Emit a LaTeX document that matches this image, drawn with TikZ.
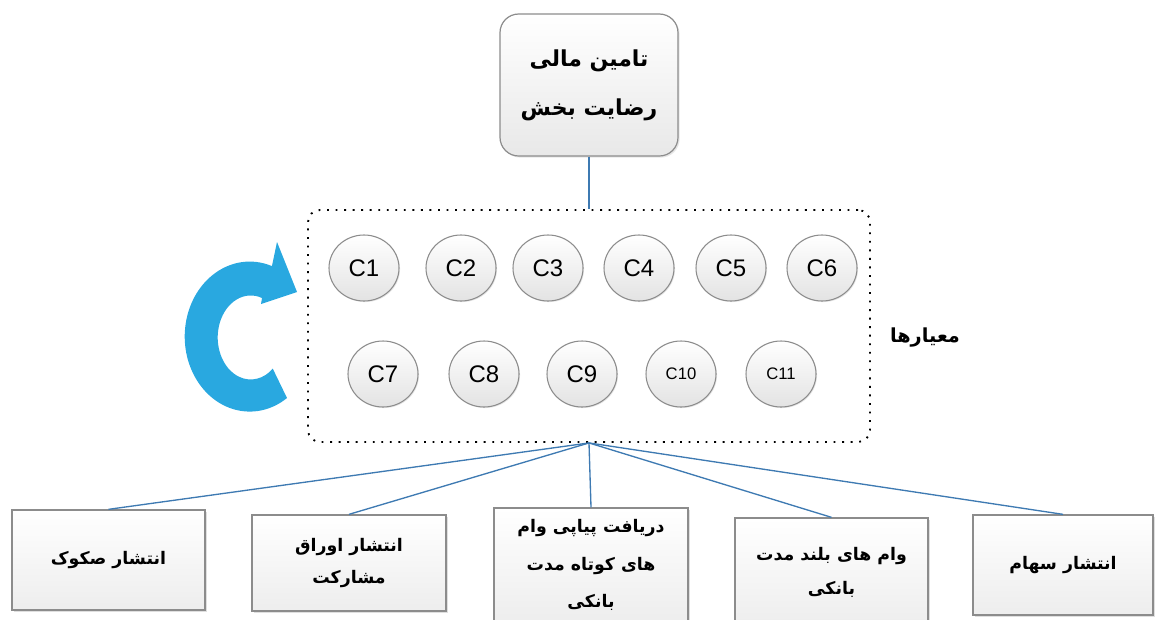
\documentclass[tikz,border=0pt]{standalone}
\usepackage{fontspec}
\setmainfont{Liberation Sans}
\newfontfamily\arabicfont[Script=Arabic]{DejaVu Sans}
\TeXXeTstate=1
\usetikzlibrary{shapes.geometric,shadows}
\definecolor{conn}{RGB}{62,122,178}
\definecolor{arrowblue}{RGB}{41,168,224}
\definecolor{edgegray}{RGB}{140,140,140}
\tikzset{
  conline/.style={draw=conn, line width=1pt},
  topbox/.style={draw=edgegray, line width=0.9pt, rounded corners=14pt, top color=white, bottom color=gray!18,
     drop shadow={shadow xshift=1.2pt, shadow yshift=-1.2pt, opacity=0.2},
     align=center, font=\arabicfont\bfseries\fontsize{16.5}{37}\selectfont},
  critbox/.style={draw=black, line width=1.4pt, dash pattern=on 1.4pt off 5pt, rounded corners=9pt},
  cnode/.style={ellipse, draw=edgegray, line width=0.8pt, top color=white, bottom color=gray!22,
     minimum width=52.5pt, minimum height=49.5pt, inner sep=0pt,
     drop shadow={shadow xshift=0.8pt, shadow yshift=-0.8pt, opacity=0.2},
     font=\fontsize{18}{20}\selectfont},
  csmall/.style={font=\fontsize{12.5}{14}\selectfont},
  optbox/.style={draw=edgegray, line width=1pt, top color=white, bottom color=gray!14,
     drop shadow={shadow xshift=1.5pt, shadow yshift=-1.5pt, opacity=0.25},
     align=center, inner sep=0pt},
  opttext/.style={font=\arabicfont\bfseries\fontsize{13}{#1}\selectfont},
  critlabel/.style={font=\arabicfont\bfseries\fontsize{14.5}{16}\selectfont}
}
\begin{document}
\begin{tikzpicture}[x=0.75pt,y=-0.75pt]
\useasboundingbox (0,0) rectangle (1156,619);
% top box
\node[topbox, minimum width=133.5pt, minimum height=106.5pt] (top) at (589,85)
  {\beginR تامین مالی\endR\\\beginR رضایت بخش\endR};
% criteria box
\node[critbox, minimum width=421.5pt, minimum height=174pt] (crit) at (589,326) {};
% criteria circles
\node[cnode] (c1) at (364,268) {C1};
\node[cnode] (c2) at (461,268) {C2};
\node[cnode] (c3) at (548,268) {C3};
\node[cnode] (c4) at (639,268) {C4};
\node[cnode] (c5) at (731,268) {C5};
\node[cnode] (c6) at (822,268) {C6};
\node[cnode] (c7) at (383,374) {C7};
\node[cnode] (c8) at (484,374) {C8};
\node[cnode] (c9) at (582,374) {C9};
\node[cnode, csmall] (c10) at (681,374) {C10};
\node[cnode, csmall] (c11) at (781,374) {C11};
% label
\node[critlabel] (critlab) at (925,338) {\beginR معیارها\endR};
% cycle arrow
\fill[arrowblue] (287,398)
  arc[start angle=55, end angle=290, x radius=65, y radius=75]
  -- (277,242) -- (297,292) -- (261,304) -- (262,298)
  arc[start angle=290, end angle=48, x radius=33, y radius=42]
  -- cycle;
% option boxes
\node[optbox, minimum width=144.75pt, minimum height=75pt, opttext=20] (o1) at (108.5,560)
  {\beginR انتشار صکوک\endR};
\node[optbox, minimum width=145.5pt, minimum height=72pt, opttext=24] (o2) at (349,563)
  {\beginR انتشار اوراق\endR\\\beginR مشارکت\endR};
\node[optbox, minimum width=145.5pt, minimum height=85.5pt, opttext=28] (o3) at (591,565)
  {\beginR دریافت پیاپی وام\endR\\\beginR های کوتاه مدت\endR\\\beginR بانکی\endR};
\node[optbox, minimum width=144.75pt, minimum height=81.75pt, opttext=26] (o4) at (831.5,572.5)
  {\beginR وام های بلند مدت\endR\\\beginR بانکی\endR};
\node[optbox, minimum width=135pt, minimum height=75pt, opttext=20] (o5) at (1063,565)
  {\beginR انتشار سهام\endR};
% connectors
\draw[conline] (top.south) -- (crit.north);
\foreach \o in {o1,o2,o3,o4,o5}
  \draw[conline] (crit.south) -- (\o.north);
\end{tikzpicture}
\end{document}
